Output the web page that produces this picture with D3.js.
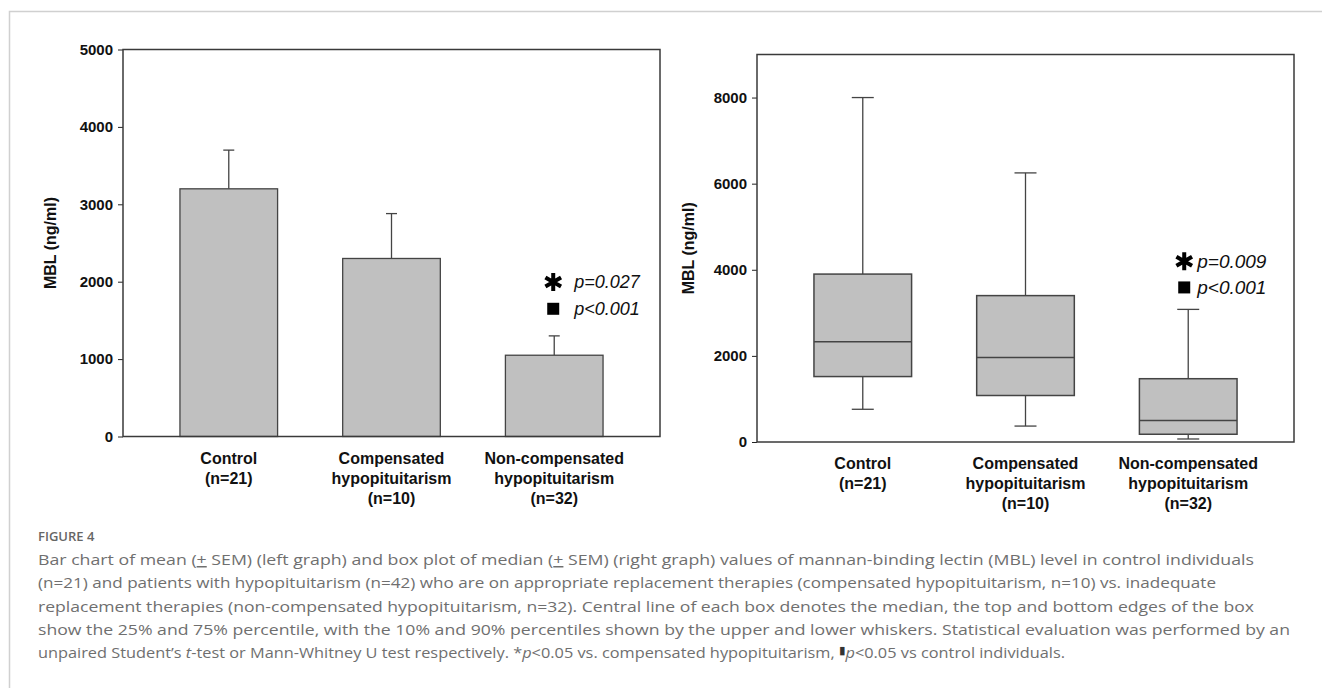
<!DOCTYPE html>
<html>
<head>
<meta charset="utf-8">
<script src="https://cdn.jsdelivr.net/npm/d3@7"></script>
<style>
  body { margin: 0; background: #fff; }
  svg { display: block; }
</style>
</head>
<body>
<svg id="fig" width="1322" height="688"></svg>
<script>
'use strict';

// data
const groups = ['Control', 'Compensated', 'Non-compensated'];
const groupLabels = [
  ['Control', '(n=21)'],
  ['Compensated', 'hypopituitarism', '(n=10)'],
  ['Non-compensated', 'hypopituitarism', '(n=32)']
];

const barMeans = [3200, 2300, 1050];
const barErrTop = [3700, 2880, 1300];
const barTicks = [0, 1000, 2000, 3000, 4000, 5000];

const boxLow = [760, 370, 70];
const boxQ1 = [1520, 1080, 180];
const boxMedian = [2330, 1960, 500];
const boxQ3 = [3900, 3400, 1470];
const boxHigh = [8000, 6250, 3080];
const boxTicks = [0, 2000, 4000, 6000, 8000];

const barPvals = ['p=0.027', 'p<0.001'];
const boxPvals = ['p=0.009', 'p<0.001'];

const yTitle = 'MBL (ng/ml)';

const svg = d3.select('#fig');
const sans = '"Liberation Sans", Arial, sans-serif';
const fill = '#c0c0c0';
const ink = '#444';

// card border
svg.append('path')
  .attr('d', 'M9.5,688 V11.5 H1322')
  .attr('fill', 'none')
  .attr('stroke', '#d0d0d0')
  .attr('stroke-width', 1.5);

const drawPanel = (opts) => {
  const { left, right, top, bottom, max, ticks, titleX } = opts;

  const x = d3.scaleBand(groups, [left, right])
    .paddingInner(0.4)
    .paddingOuter(0.35);
  const y = d3.scaleLinear([0, max], [bottom, top]);

  const g = svg.append('g');

  const axis = d3.axisLeft(y)
    .tickValues(ticks)
    .tickFormat(d3.format('d'))
    .tickSize(5)
    .tickPadding(5);

  g.append('g')
    .attr('transform', `translate(${left},0)`)
    .call(axis)
    .call((a) => a.select('.domain').remove())
    .call((a) => a.selectAll('line').attr('stroke', '#222'))
    .call((a) => a.selectAll('text')
      .attr('fill', '#111')
      .style('font', `bold 15px ${sans}`));

  g.append('text')
    .attr('transform', `translate(${titleX},${(top + bottom) / 2}) rotate(-90)`)
    .attr('text-anchor', 'middle')
    .attr('dy', '0.35em')
    .style('font', `bold 16px ${sans}`)
    .attr('fill', '#111')
    .text(yTitle);

  const labels = g.append('g')
    .selectAll('text')
    .data(groupLabels)
    .join('text')
    .attr('x', (d, i) => x(groups[i]) + x.bandwidth() / 2)
    .attr('y', bottom + 27)
    .attr('text-anchor', 'middle')
    .style('font', `bold 16px ${sans}`)
    .attr('fill', '#111');

  labels.selectAll('tspan')
    .data((d) => d)
    .join('tspan')
    .attr('x', function () { return this.parentNode.getAttribute('x'); })
    .attr('dy', (d, i) => (i === 0 ? 0 : 20))
    .text((d) => d);

  return { g, x, y };
};

const drawFrame = (g, left, right, top, bottom) => {
  g.append('rect')
    .attr('x', left)
    .attr('y', top)
    .attr('width', right - left)
    .attr('height', bottom - top)
    .attr('fill', 'none')
    .attr('stroke', '#3a3a3a')
    .attr('stroke-width', 1.5);
};

const drawPvals = (g, cx, yStar, ySquare, textX, texts, size) => {
  g.append('path')
    .attr('transform', `translate(${cx},${yStar})`)
    .attr('d', d3.symbol(d3.symbolAsterisk, 230)())
    .attr('fill', 'none')
    .attr('stroke', '#000')
    .attr('stroke-width', 4);

  g.append('rect')
    .attr('x', cx - 6)
    .attr('y', ySquare - 6)
    .attr('width', 12)
    .attr('height', 12)
    .attr('fill', '#000');

  g.selectAll('.pval')
    .data(texts)
    .join('text')
    .attr('class', 'pval')
    .attr('x', textX)
    .attr('y', (d, i) => (i === 0 ? yStar : ySquare))
    .attr('dy', '0.35em')
    .style('font', `italic ${size}px ${sans}`)
    .attr('fill', '#111')
    .text((d) => d);
};

// left: bar chart of means
{
  const left = 123, right = 660, top = 49.5, bottom = 436.5;
  const { g, x, y } = drawPanel({ left, right, top, bottom, max: 5000, ticks: barTicks, titleX: 50 });

  const cx = (i) => x(groups[i]) + x.bandwidth() / 2;

  g.append('g')
    .selectAll('line')
    .data(barErrTop)
    .join('line')
    .attr('x1', (d, i) => cx(i))
    .attr('x2', (d, i) => cx(i))
    .attr('y1', (d, i) => y(barMeans[i]))
    .attr('y2', (d) => y(d))
    .attr('stroke', ink)
    .attr('stroke-width', 1.3);

  g.append('g')
    .selectAll('line')
    .data(barErrTop)
    .join('line')
    .attr('x1', (d, i) => cx(i) - 5.5)
    .attr('x2', (d, i) => cx(i) + 5.5)
    .attr('y1', (d) => y(d))
    .attr('y2', (d) => y(d))
    .attr('stroke', ink)
    .attr('stroke-width', 1.3);

  g.append('g')
    .selectAll('rect')
    .data(barMeans)
    .join('rect')
    .attr('x', (d, i) => x(groups[i]))
    .attr('y', (d) => y(d))
    .attr('width', x.bandwidth())
    .attr('height', (d) => y(0) - y(d))
    .attr('fill', fill)
    .attr('stroke', ink)
    .attr('stroke-width', 1.3);

  drawFrame(g, left, right, top, bottom);
  drawPvals(g, cx(2) - 1, y(1995), y(1650), cx(2) + 20, barPvals, 18);
}

// right: box plot of medians
{
  const left = 757, right = 1294, top = 54.5, bottom = 442;
  const { g, x, y } = drawPanel({ left, right, top, bottom, max: 9000, ticks: boxTicks, titleX: 688 });

  const cx = (i) => x(groups[i]) + x.bandwidth() / 2;
  const capHalf = 11;

  const whiskers = g.append('g')
    .attr('stroke', ink)
    .attr('stroke-width', 1.3);

  groups.forEach((grp, i) => {
    [[boxQ3[i], boxHigh[i]], [boxQ1[i], boxLow[i]]].forEach(([from, to]) => {
      whiskers.append('line')
        .attr('x1', cx(i)).attr('x2', cx(i))
        .attr('y1', y(from)).attr('y2', y(to));
      whiskers.append('line')
        .attr('x1', cx(i) - capHalf).attr('x2', cx(i) + capHalf)
        .attr('y1', y(to)).attr('y2', y(to));
    });
  });

  g.append('g')
    .selectAll('rect')
    .data(boxQ3)
    .join('rect')
    .attr('x', (d, i) => x(groups[i]))
    .attr('y', (d) => y(d))
    .attr('width', x.bandwidth())
    .attr('height', (d, i) => y(boxQ1[i]) - y(d))
    .attr('fill', fill)
    .attr('stroke', ink)
    .attr('stroke-width', 1.5);

  g.append('g')
    .selectAll('line')
    .data(boxMedian)
    .join('line')
    .attr('x1', (d, i) => x(groups[i]))
    .attr('x2', (d, i) => x(groups[i]) + x.bandwidth())
    .attr('y1', (d) => y(d))
    .attr('y2', (d) => y(d))
    .attr('stroke', ink)
    .attr('stroke-width', 1.5);

  drawFrame(g, left, right, top, bottom);
  drawPvals(g, cx(2) - 4, y(4200), y(3590), cx(2) + 9, boxPvals, 19);
}

// caption
const caption = svg.append('g')
  .attr('transform', 'translate(38,0)')
  .attr('fill', '#6f6f6f')
  .style('font-family', '"Open Sans", "Noto Sans", sans-serif');

caption.append('text')
  .attr('y', 541)
  .style('font-size', '13px')
  .style('font-weight', 600)
  .attr('fill', '#666')
  .text('FIGURE 4');

// each line is a list of [text, style] runs
const captionLines = [
  [['Bar chart of mean ('], ['+', 'u'], [' SEM) (left graph) and box plot of median ('], ['+', 'u'],
    [' SEM) (right graph) values of mannan-binding lectin (MBL) level in control individuals']],
  [['(n=21) and patients with hypopituitarism (n=42) who are on appropriate replacement therapies (compensated hypopituitarism, n=10) vs. inadequate']],
  [['replacement therapies (non-compensated hypopituitarism, n=32). Central line of each box denotes the median, the top and bottom edges of the box']],
  [['show the 25% and 75% percentile, with the 10% and 90% percentiles shown by the upper and lower whiskers. Statistical evaluation was performed by an']],
  [['unpaired Student\u2019s '], ['t', 'i'], ['-test or Mann-Whitney U test respectively. *'], ['p', 'i'],
    ['<0.05 vs. compensated hypopituitarism, '], ['\u25AE', 'sq'], ['p', 'i'], ['<0.05 vs control individuals.']]
];
const captionWidths = [1216, 1178, 1216, 1252, 1027];

caption.selectAll('.cap')
  .data(captionLines)
  .join('text')
  .attr('class', 'cap')
  .attr('y', (d, i) => 565 + i * 23.3)
  .attr('textLength', (d, i) => captionWidths[i])
  .attr('lengthAdjust', 'spacingAndGlyphs')
  .style('font-size', '15px')
  .selectAll('tspan')
  .data((d) => d)
  .join('tspan')
  .style('font-style', (d) => (d[1] === 'i' ? 'italic' : null))
  .style('text-decoration', (d) => (d[1] === 'u' ? 'underline' : null))
  .style('font-size', (d) => (d[1] === 'sq' ? '11px' : null))
  .attr('dy', (d, i, n) => (d[1] === 'sq' ? -4 : (i > 0 && n[i - 1].__data__[1] === 'sq' ? 4 : null)))
  .attr('fill', (d) => (d[1] === 'sq' ? '#333' : null))
  .text((d) => d[0]);
</script>
</body>
</html>
